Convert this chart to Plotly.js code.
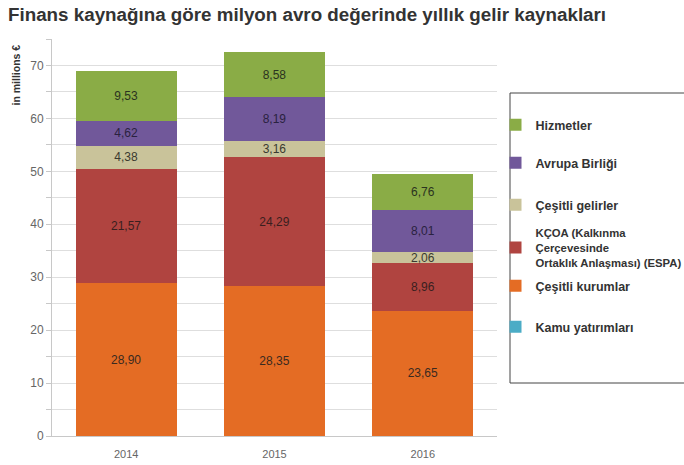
<!DOCTYPE html>
<html><head><meta charset="utf-8">
<script src="https://cdn.plot.ly/plotly-3.0.1.min.js"></script>
<style>html,body{margin:0;padding:0;background:#fff}#chart{width:684px;height:465px}</style>
</head><body><div id="chart"></div>
<script>
const years = ['2014', '2015', '2016'];
const seriesNames = ['Kamu yatırımları', 'Çeşitli kurumlar', 'KÇOA (Kalkınma<br>Çerçevesinde<br>Ortaklık Anlaşması) (ESPA)', 'Çeşitli gelirler', 'Avrupa Birliği', 'Hizmetler'];
const kamu = [0, 0, 0];
const cesitliKurumlar = [28.90, 28.35, 23.65];
const kcoa = [21.57, 24.29, 8.96];
const cesitliGelirler = [4.38, 3.16, 2.06];
const avrupaBirligi = [4.62, 8.19, 8.01];
const hizmetler = [9.53, 8.58, 6.76];
const seriesValues = [kamu, cesitliKurumlar, kcoa, cesitliGelirler, avrupaBirligi, hizmetler];
const colors = ['#4bacc6', '#e46c24', '#b04440', '#c9c39a', '#71589a', '#8aac46'];
const textColors = ['#333', '#3a2a20', '#3a1f1f', '#3a3a30', '#2a2240', '#2a3320'];

const fmt = v => v > 0 ? v.toFixed(2).replace('.', ',') : '';
const legendIds = seriesValues.map((_, i) => i === 0 ? 'legend' : 'legend' + (i + 1));

const traces = seriesValues.map((vals, i) => ({
  type: 'bar',
  x: years,
  y: vals,
  name: seriesNames[i],
  legend: legendIds[i],
  marker: {color: colors[i]},
  text: vals.map(fmt),
  textposition: 'inside',
  insidetextanchor: 'middle',
  textangle: 0,
  constraintext: 'none',
  textfont: {family: 'Liberation Sans, Arial, sans-serif', size: 12, color: textColors[i]},
  hoverinfo: 'none'
}));

const W = 684, H = 465;
const L = 52, R = 497, T = 39, B = 436;
const px = x => (x - L) / (R - L);
const py = y => (B - y) / (B - T);

// legend entry vertical centres (pixels), bottom series first
const legendCentres = [327, 286, 248, 205, 163, 125];
const legendFontSizes = [12.5, 12.5, 11.3, 12.5, 12.5, 12.5];

const layout = {
  width: W, height: H,
  margin: {l: L, r: W - R, t: T, b: H - B, pad: 0, autoexpand: false},
  paper_bgcolor: '#fff', plot_bgcolor: '#fff',
  barmode: 'stack',
  bargap: 0.32,
  showlegend: true,
  font: {family: 'Liberation Sans, Arial, sans-serif', color: '#333'},
  title: {
    text: '<b>Finans kaynağına göre milyon avro değerinde yıllık gelir kaynakları</b>',
    font: {size: 18.8, color: '#333', family: 'Liberation Sans, Arial, sans-serif'},
    x: 8 / W, xanchor: 'left', xref: 'container',
    y: 1 - 14 / H, yanchor: 'middle', yref: 'container'
  },
  xaxis: {
    type: 'category',
    showline: true, linecolor: '#c8c8c8', linewidth: 1,
    ticks: '', tickfont: {size: 11, color: '#666'},
    ticklabelstandoff: 8,
    showgrid: false, zeroline: false
  },
  yaxis: {
    range: [0, 75], dtick: 10, tick0: 0,
    showline: true, linecolor: '#c8c8c8', linewidth: 1,
    ticks: 'outside', ticklen: 5, tickcolor: '#c8c8c8',
    tickfont: {size: 12, color: '#666'},
    showgrid: true, gridcolor: '#dedede', gridwidth: 1,
    zeroline: false,
    minor: {dtick: 5, showgrid: true, gridcolor: '#dedede', ticks: 'outside', ticklen: 5, tickcolor: '#c8c8c8'}
  },
  shapes: [{
    type: 'rect', xref: 'paper', yref: 'paper',
    x0: px(510), x1: px(700), y0: py(383), y1: py(93),
    line: {color: '#444', width: 1}, fillcolor: 'rgba(0,0,0,0)'
  }],
  annotations: [{
    text: '<b>in millions €</b>', textangle: -90,
    xref: 'paper', yref: 'paper', x: px(15), y: py(43),
    xanchor: 'center', yanchor: 'top', showarrow: false,
    font: {size: 10.5, color: '#333'}
  }]
};

legendIds.forEach((id, i) => {
  layout[id] = {
    x: px(495.5), xanchor: 'left', y: py(legendCentres[i]), yanchor: 'middle',
    font: {size: legendFontSizes[i], color: '#333', weight: 'bold'},
    bgcolor: 'rgba(0,0,0,0)', borderwidth: 0,
    itemwidth: 30, tracegroupgap: 0
  };
});

Plotly.newPlot('chart', traces, layout, {displayModeBar: false, staticPlot: true});
</script>
</body></html>
